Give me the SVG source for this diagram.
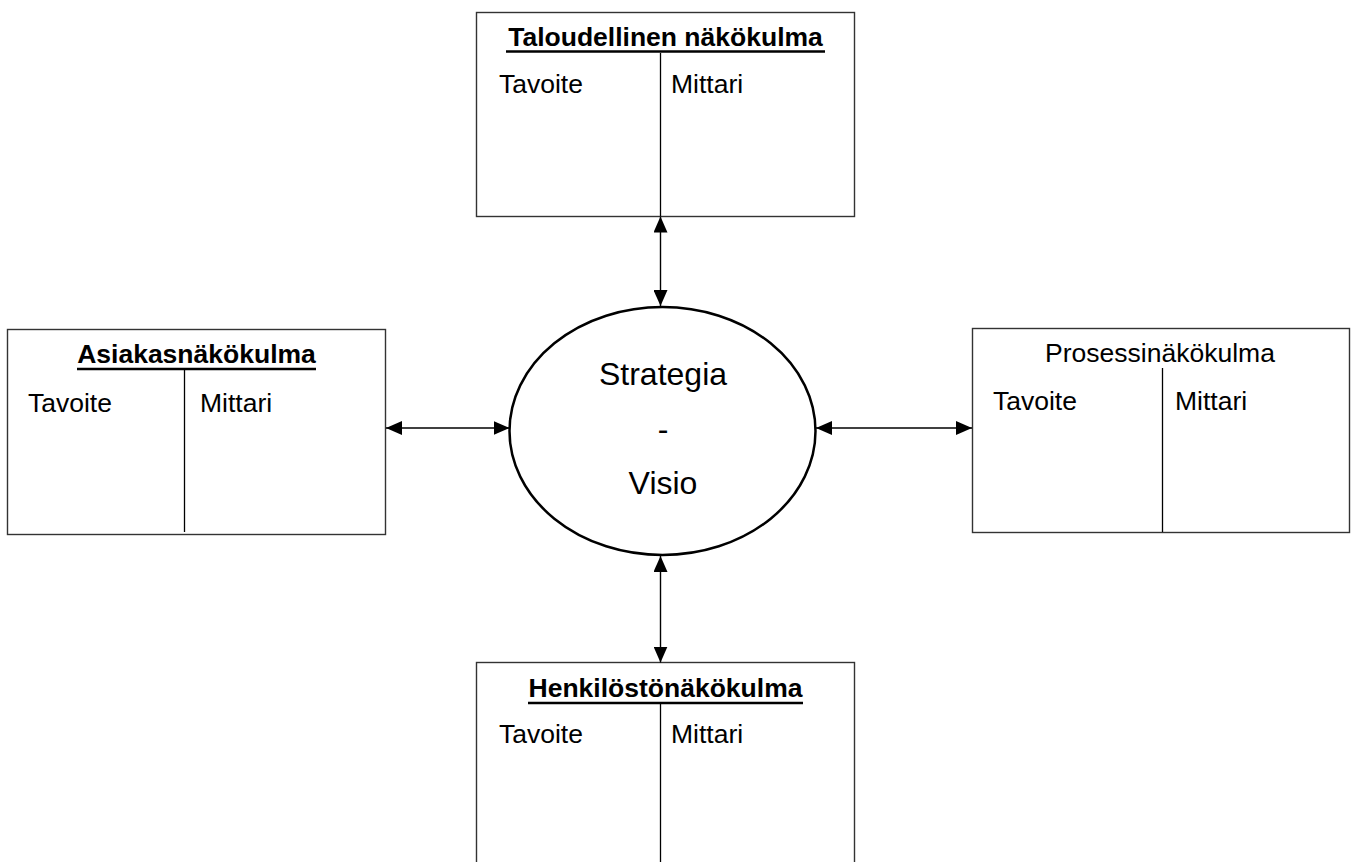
<svg xmlns="http://www.w3.org/2000/svg" width="1352" height="862" viewBox="0 0 1352 862">
<style>
  .box { fill: #ffffff; stroke: #333333; stroke-width: 1.4; }
  .div { stroke: #000000; stroke-width: 1.3; }
  .t { font-family: "Liberation Sans", Arial, sans-serif; font-size: 26.5px; fill: #000000; }
  .title { font-family: "Liberation Sans", Arial, sans-serif; font-size: 26.5px; font-weight: bold; fill: #000000; text-anchor: middle; }
  .ul { stroke: #000000; stroke-width: 2.6; }
  .ell { fill: #ffffff; stroke: #000000; stroke-width: 2.5; }
  .et { font-family: "Liberation Sans", Arial, sans-serif; font-size: 32px; fill: #000000; text-anchor: middle; }
  .conn { stroke: #000000; stroke-width: 1.4; fill: none; marker-start: url(#ah); marker-end: url(#ah); }
</style>
<defs>
  <marker id="ah" viewBox="0 0 16 14" refX="16" refY="7" markerWidth="16" markerHeight="14" markerUnits="userSpaceOnUse" orient="auto-start-reverse">
    <path d="M0,0 L16,7 L0,14 Z" fill="#000000"/>
  </marker>
</defs>
<rect width="1352" height="862" fill="#ffffff"/>

<g id="taloudellinen">
  <rect class="box" x="476.5" y="12.5" width="378" height="204"/>
  <text class="title" x="665.5" y="45.5">Taloudellinen näkökulma</text>
  <line class="ul" x1="506" y1="51.5" x2="825" y2="51.5"/>
  <line class="div" x1="660.5" y1="53" x2="660.5" y2="216"/>
  <text class="t" x="499" y="93">Tavoite</text>
  <text class="t" x="671" y="93">Mittari</text>
</g>

<g id="asiakas">
  <rect class="box" x="7.5" y="329.5" width="378" height="205"/>
  <text class="title" x="196.5" y="363">Asiakasnäkökulma</text>
  <line class="ul" x1="77" y1="369" x2="316" y2="369"/>
  <line class="div" x1="184.5" y1="370" x2="184.5" y2="532"/>
  <text class="t" x="28" y="412">Tavoite</text>
  <text class="t" x="200" y="412">Mittari</text>
</g>

<g id="prosessi">
  <rect class="box" x="972.5" y="328.5" width="377" height="204"/>
  <text class="t" x="1160" y="362" text-anchor="middle">Prosessinäkökulma</text>
  <line class="div" x1="1162.5" y1="368" x2="1162.5" y2="532"/>
  <text class="t" x="993" y="410">Tavoite</text>
  <text class="t" x="1175" y="410">Mittari</text>
</g>

<g id="henkilosto">
  <rect class="box" x="476.5" y="662.5" width="378" height="220"/>
  <text class="title" x="665.5" y="697">Henkilöstönäkökulma</text>
  <line class="ul" x1="528" y1="703" x2="803" y2="703"/>
  <line class="div" x1="660.5" y1="704" x2="660.5" y2="862"/>
  <text class="t" x="499" y="743">Tavoite</text>
  <text class="t" x="671" y="743">Mittari</text>
</g>

<g id="strategia">
  <ellipse class="ell" cx="662.5" cy="431" rx="153" ry="124"/>
  <text class="et" x="663" y="385">Strategia</text>
  <text class="et" x="663" y="440">-</text>
  <text class="et" x="663" y="494">Visio</text>
</g>

<g id="connectors">
  <line class="conn" x1="660.5" y1="216.5" x2="660.5" y2="306"/>
  <line class="conn" x1="660.5" y1="556" x2="660.5" y2="662.5"/>
  <line class="conn" x1="386" y1="428" x2="509.5" y2="428"/>
  <line class="conn" x1="816" y1="428" x2="972" y2="428"/>
</g>
</svg>
